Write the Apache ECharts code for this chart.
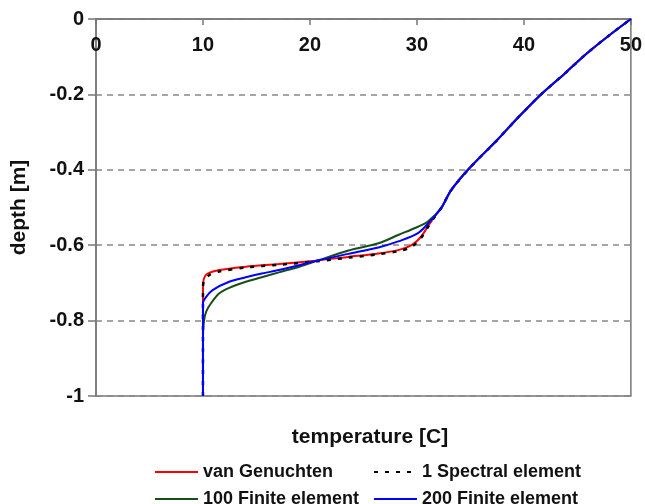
<!DOCTYPE html>
<html>
<head>
<meta charset="utf-8">
<script src="https://cdn.jsdelivr.net/npm/echarts@6/dist/echarts.min.js"></script>
<style>
  html, body { margin: 0; padding: 0; background: #fff; }
  #chart { width: 645px; height: 504px; }
</style>
</head>
<body>
<div id="chart"></div>
<script>
// 上部公共段 (所有曲线重合)
var upperTemp = [32.3, 33.2, 34.9, 37.5, 39.5, 41.6, 43.8, 45.9, 47.9, 50]
var upperDepth = [-0.5, -0.454, -0.396, -0.321, -0.26, -0.2, -0.145, -0.091, -0.045, 0]

// van Genuchten
var vgTemp = [10, 10, 10, 10.3, 11.5, 14.0, 17.1, 20.5, 23.6, 26.4, 28.25, 29.5, 30.4, 31.0, 31.65]
var vgDepth = [-1, -0.75, -0.71, -0.678, -0.666, -0.657, -0.65, -0.641, -0.631, -0.622, -0.613, -0.6, -0.577, -0.551, -0.524]

// 1 Spectral element
var seTemp = [10, 10, 10.05, 10.6, 11.5, 14.0, 17.1, 20.5, 23.6, 26.4, 28.25, 29.5, 30.4, 31.0, 31.65]
var seDepth = [-1, -0.72, -0.698, -0.679, -0.67, -0.659, -0.652, -0.643, -0.633, -0.624, -0.616, -0.604, -0.58, -0.553, -0.525]

// 100 Finite element
var fe100Temp = [10, 10, 10.1, 10.3, 10.75, 11.5, 12.45, 14.0, 15.5, 17.1, 19.0, 20.5, 23.6, 26.4, 28.25, 30.1, 31.0]
var fe100Depth = [-1, -0.84, -0.8, -0.776, -0.754, -0.728, -0.713, -0.697, -0.685, -0.672, -0.657, -0.643, -0.614, -0.595, -0.573, -0.551, -0.538]

// 200 Finite element
var fe200Temp = [10, 10, 10.3, 10.9, 12.45, 14.0, 15.5, 17.1, 19.0, 20.5, 23.6, 26.4, 28.25, 30.1, 31.35]
var fe200Depth = [-1, -0.754, -0.737, -0.719, -0.697, -0.685, -0.675, -0.666, -0.653, -0.642, -0.623, -0.606, -0.59, -0.568, -0.533]

var xTicks = [0, 10, 20, 30, 40, 50]

function pairs (t, d) {
  var out = []
  for (var i = 0; i < t.length; i++) out.push([t[i], d[i]])
  for (var j = 0; j < upperTemp.length; j++) out.push([upperTemp[j], upperDepth[j]])
  return out
}

var font = 'Liberation Sans'
var myChart = echarts.init(document.getElementById('chart'))

function lineSeries (name, t, d, color, type, width) {
  return {
    name: name,
    type: 'line',
    data: pairs(t, d),
    symbol: 'none',
    smooth: 0.3,
    lineStyle: { color: color, width: width, type: type },
    itemStyle: { color: color },
    silent: true,
    animation: false
  }
}

// 图例: 两行两列, 每项一个 legend
function legendItem (name, left, top) {
  return {
    left: left, top: top, padding: 0,
    itemWidth: 43, itemHeight: 14,
    data: [name],
    itemStyle: { opacity: 0 },
    textStyle: { fontFamily: font, fontSize: 18, fontWeight: 'bold', color: '#111' }
  }
}

var option = {
  animation: false,
  title: {
    text: 'temperature [C]',
    left: 365,
    top: 422,
    textAlign: 'center',
    textStyle: { fontFamily: font, fontSize: 21, fontWeight: 'bold', color: '#111' }
  },
  grid: {
    left: 96, right: 11, top: 19, bottom: 108,
    show: true, borderColor: '#777', borderWidth: 1.5, backgroundColor: '#fff'
  },
  legend: [
    legendItem('van Genuchten', 154, 463),
    legendItem('1 Spectral element', 373, 463),
    legendItem('100 Finite element', 154, 490),
    legendItem('200 Finite element', 373, 490)
  ],
  xAxis: {
    type: 'value',
    position: 'top',
    min: 0, max: 50, interval: 10,
    axisLine: { lineStyle: { color: '#777', width: 1.5 } },
    axisTick: { inside: true, length: 6, lineStyle: { color: '#777', width: 1.5 } },
    axisLabel: {
      inside: true, margin: 16,
      formatter: function (v) { return xTicks.indexOf(v) >= 0 ? String(v) : '' },
      fontFamily: font, fontSize: 20, fontWeight: 'bold', color: '#111'
    },
    splitLine: { show: false }
  },
  yAxis: {
    type: 'value',
    min: -1, max: 0, interval: 0.2,
    name: 'depth [m]',
    nameLocation: 'middle',
    nameGap: 66,
    nameTextStyle: { fontFamily: font, fontSize: 21, fontWeight: 'bold', color: '#111' },
    axisLine: { lineStyle: { color: '#777', width: 1.5 } },
    axisTick: { length: 8, lineStyle: { color: '#777', width: 1.5 } },
    axisLabel: {
      margin: 12,
      formatter: function (v) { return String(+v.toFixed(1)) },
      fontFamily: font, fontSize: 20, fontWeight: 'bold', color: '#111'
    },
    splitLine: { show: true, lineStyle: { color: '#888', width: 1.5, type: [6, 5] } }
  },
  series: [
    lineSeries('van Genuchten', vgTemp, vgDepth, '#ff0000', 'solid', 2),
    lineSeries('1 Spectral element', seTemp, seDepth, '#000000', [4, 7], 2.5),
    lineSeries('100 Finite element', fe100Temp, fe100Depth, '#174d17', 'solid', 2),
    lineSeries('200 Finite element', fe200Temp, fe200Depth, '#0000ff', 'solid', 2)
  ]
}
myChart.setOption(option)
</script>
</body>
</html>
